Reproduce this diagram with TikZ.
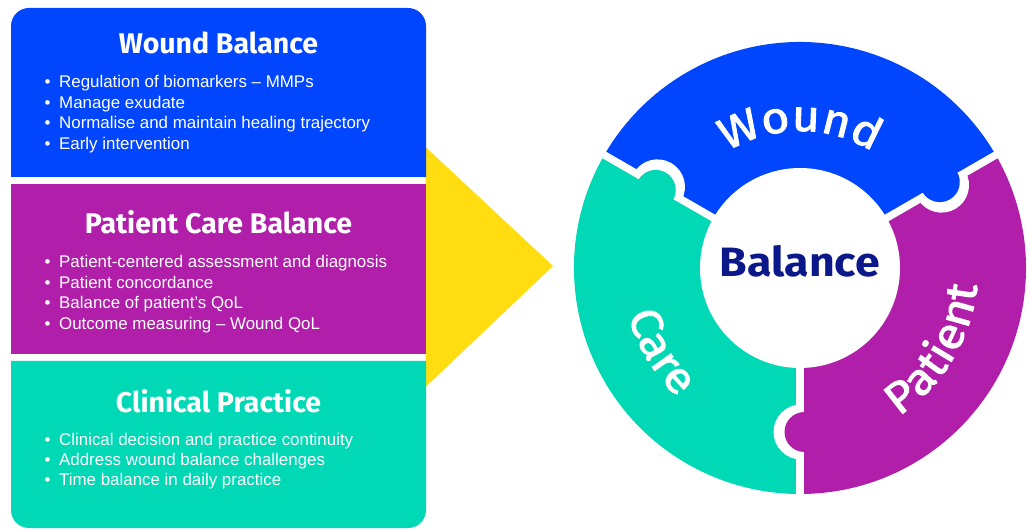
\documentclass[tikz,border=0pt]{standalone}
\usepackage{fontspec}
\setmainfont{Liberation Sans}
\newfontfamily\headfont{Fira Sans}
\newfontfamily\ringfont[FakeStretch=1.09]{Fira Sans}
\newfontfamily\wordfont[FakeStretch=1.1, FakeBold=2]{Fira Sans}
\usetikzlibrary{positioning,decorations.text}

\definecolor{woundblue}{RGB}{0,70,255}
\definecolor{patientpurple}{RGB}{176,30,170}
\definecolor{caregreen}{RGB}{0,216,182}
\definecolor{arrowyellow}{RGB}{255,221,16}
\definecolor{balnavy}{RGB}{10,24,138}

\newcommand\itm[1]{\makebox[14.5pt][l]{\textbullet}#1}
\newcommand\itemlist[1]{\begin{tabular}[t]{@{}l@{}}#1\end{tabular}}
\newcommand\ringword{\wordfont\fontsize{44}{44}\selectfont}

\tikzset{
  head/.style={anchor=base, text=white, inner sep=0pt, font=\headfont\bfseries\fontsize{28.5}{28.5}\selectfont},
  items/.style={anchor=base west, inner sep=0pt, text=white, font=\fontsize{16.9}{20.4}\selectfont},
  ringtext/.style={decorate, decoration={text along path, text align=center, text color=white, text={|\ringword|#1}}}
}

\begin{document}
\begin{tikzpicture}[x=1pt,y=1pt]
\useasboundingbox (0,0) rectangle (1032,530);

% arrow behind the panel
\fill[arrowyellow] (425.5,383) -- (553,264) -- (425.5,143) -- cycle;

% left panel
\fill[woundblue] (11,353) -- (11,504) arc[start angle=180, end angle=90, radius=18pt]
  -- (408,522) arc[start angle=90, end angle=0, radius=18pt] -- (426,353) -- cycle;
\fill[patientpurple] (11,176) rectangle (426,346);
\fill[caregreen] (11,169) -- (426,169) -- (426,20) arc[start angle=0, end angle=-90, radius=18pt]
  -- (29,2) arc[start angle=270, end angle=180, radius=18pt] -- cycle;

\node[head] (woundhead) at (218.5,476) {Wound Balance};
\node[items] (wounditems) at (44.5,442) {\itemlist{%
  \itm{Regulation of biomarkers -- MMPs}\\
  \itm{Manage exudate}\\
  \itm{Normalise and maintain healing trajectory}\\
  \itm{Early intervention}}};

\node[head] (carehead) at (218.5,296) {Patient Care Balance};
\node[items] (careitems) at (44.5,262) {\itemlist{%
  \itm{Patient-centered assessment and diagnosis}\\
  \itm{Patient concordance}\\
  \itm{Balance of patient’s QoL}\\
  \itm{Outcome measuring -- Wound QoL}}};

\node[head] (clinhead) at (218.5,118) {Clinical Practice};
\node[items] (clinitems) at (44.5,85) {\itemlist{%
  \itm{Clinical decision and practice continuity}\\
  \itm{Address wound balance challenges}\\
  \itm{Time balance in daily practice}}};

% ring
\coordinate (c) at (800,262);
\foreach \a/\b/\col in {30/150/woundblue, 150/270/caregreen, 270/390/patientpurple}
  \fill[\col] (c) -- ++(\a:226pt) arc[start angle=\a, end angle=\b, radius=226pt] -- cycle;
\foreach \a in {30,150,270}
  \draw[white, line width=7.5pt] (c) -- ++(\a:235pt);

% puzzle knobs
\foreach \a/\col in {150/caregreen, 30/woundblue, 270/patientpurple} {
  \begin{scope}[shift={(c)}, rotate=\a]
    \begin{scope}
      \clip (120,0) rectangle (210,-40);
      \fill[white] (164,1) circle[radius=27.5pt];
    \end{scope}
    \fill[\col] (164,4.5) circle[radius=20pt];
  \end{scope}
}

\fill[white] (c) circle[radius=100pt];
\node[anchor=base, inner sep=0pt, text=balnavy, font=\ringfont\bfseries\fontsize{41}{41}\selectfont] (bal) at (800,253) {Balance};

\path[ringtext=Wound] (c) ++(150:137pt) arc[start angle=150, end angle=30, radius=137pt];
\path[ringtext=Care] (c) ++(161:178pt) arc[start angle=161, end angle=261, radius=178pt];
\path[ringtext=Patient] (c) ++(-81:178pt) arc[start angle=-81, end angle=19, radius=178pt];

\end{tikzpicture}
\end{document}
